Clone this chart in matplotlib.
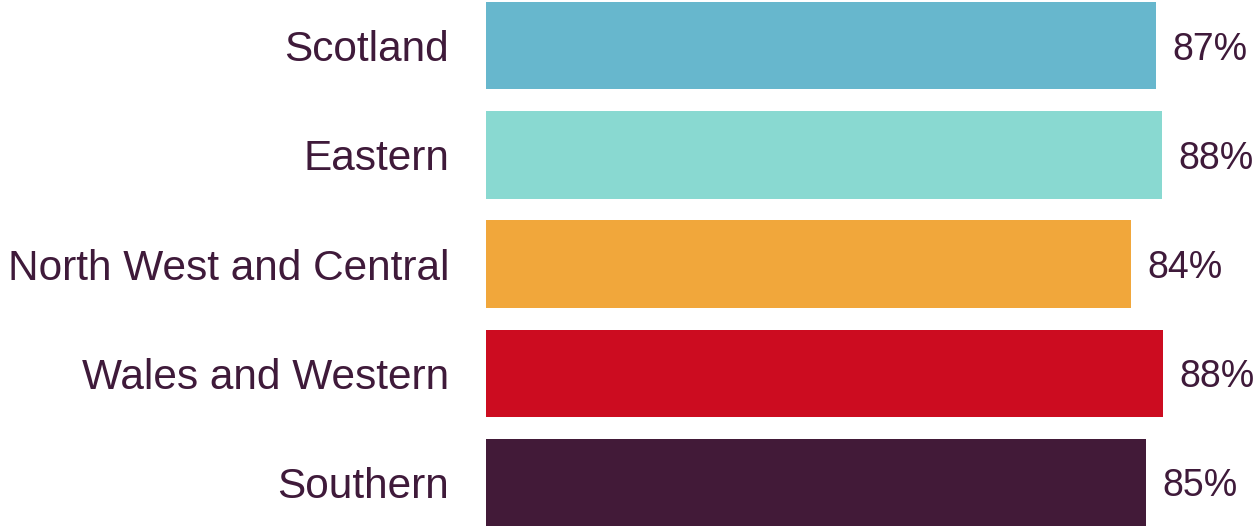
import matplotlib
matplotlib.use("Agg")
import matplotlib.pyplot as plt

regions = ["Scotland", "Eastern", "North West and Central", "Wales and Western", "Southern"]
values = [87.1, 87.9, 83.9, 88.0, 85.8]
value_labels = ["87%", "88%", "84%", "88%", "85%"]
colors = ["#67B7CD", "#89D9D1", "#F1A73B", "#CC0C20", "#421A38"]

text_color = "#3F1A3A"
plt.rcParams["font.family"] = ["Liberation Sans", "DejaVu Sans"]

fig = plt.figure(figsize=(12.53, 5.27), dpi=100)
ax = fig.add_axes([486 / 1253, 0, 1 - 486 / 1253, 1])

ypos = list(range(len(regions)))
ax.barh(ypos, values, height=0.8, color=colors)

for y, v, lab in zip(ypos, values, value_labels):
    ax.annotate(lab, (v, y), xytext=(11.5, -3), textcoords="offset points",
                va="center", ha="left", fontsize=27, color=text_color)

ax.set_yticks(ypos)
ax.set_yticklabels(regions, fontsize=30.5, color=text_color)
ax.tick_params(axis="y", length=0, pad=26.5)
ax.set_xticks([])
ax.set_xlim(0, 99.7)
ax.set_ylim(4.41, -0.42)
for s in ax.spines.values():
    s.set_visible(False)

fig.savefig("out.png", dpi=100)
